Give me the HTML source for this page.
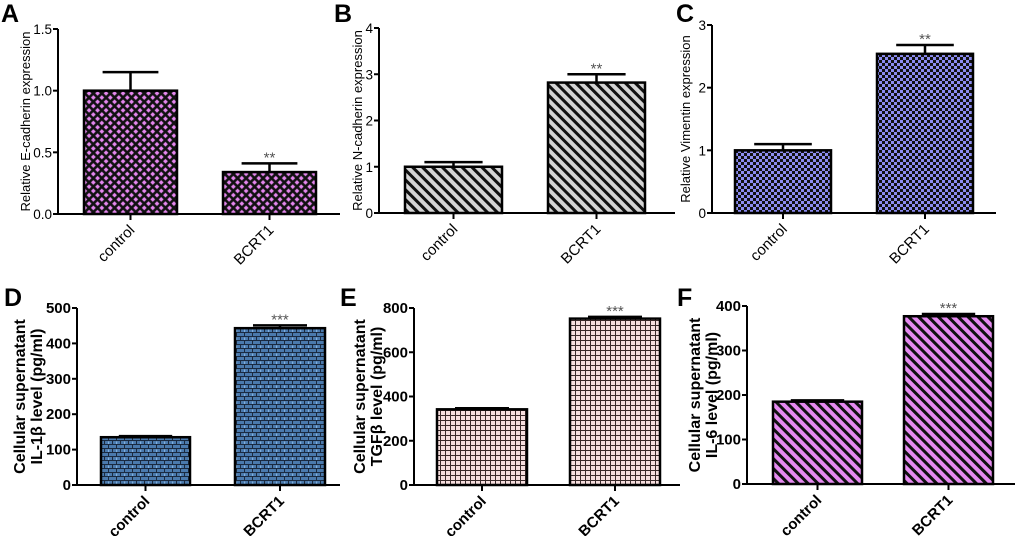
<!DOCTYPE html>
<html><head><meta charset="utf-8"><style>
body{margin:0;background:#fff;}
svg{display:block;font-family:"Liberation Sans",Arial,sans-serif;}
</style></head><body>
<svg id="fig" width="1020" height="536" viewBox="0 0 1020 536">
<defs>
<pattern id="pA" width="6" height="6" patternUnits="userSpaceOnUse" patternTransform="rotate(45)">
<rect width="6" height="6" fill="#111"/><rect x="1.3" y="1.3" width="3.4" height="3.4" fill="#e486ee"/></pattern>
<pattern id="pB" width="7" height="7" patternUnits="userSpaceOnUse" patternTransform="rotate(45)">
<rect width="7" height="7" fill="#d4d4d4"/><rect width="7" height="3" fill="#111"/></pattern>
<pattern id="pC" width="6" height="6" patternUnits="userSpaceOnUse">
<rect width="6" height="6" fill="#111"/><rect width="3" height="3" fill="#8c8cf0"/><rect x="3" y="3" width="3" height="3" fill="#8c8cf0"/></pattern>
<pattern id="pD" width="8" height="8" patternUnits="userSpaceOnUse">
<rect width="8" height="8" fill="#7fb0e0"/><rect x="0" y="0" width="8" height="1.2" fill="#1a2a40"/><rect x="0" y="4" width="8" height="1.2" fill="#1a2a40"/><rect x="0" y="0" width="1.2" height="4" fill="#1a2a40"/><rect x="4" y="4" width="1.2" height="4" fill="#1a2a40"/><rect x="1.2" y="1.2" width="2.8" height="2.8" fill="#4a7aae"/><rect x="5.2" y="1.2" width="2.8" height="2.8" fill="#4a7aae"/><rect x="0" y="5.2" width="4" height="2.8" fill="#4a7aae"/><rect x="5.2" y="5.2" width="2.8" height="2.8" fill="#4a7aae"/></pattern>
<pattern id="pE" width="5" height="5" patternUnits="userSpaceOnUse">
<rect width="5" height="5" fill="#3a2a2a"/><rect x="1" y="1" width="4" height="4" fill="#f6dede"/></pattern>
<pattern id="pF" width="7" height="7" patternUnits="userSpaceOnUse" patternTransform="rotate(45)">
<rect width="7" height="7" fill="#e58af0"/><rect width="7" height="3" fill="#111"/></pattern>
</defs>
</svg>
<script>
const categories=["control","BCRT1"];
const valsA=[1.0,0.34], errA=[0.15,0.07];
const valsB=[1.0,2.82], errB=[0.1,0.18];
const valsC=[1.0,2.54], errC=[0.1,0.14];
const valsD=[135,443], errD=[3,8];
const valsE=[342,752], errE=[5,8];
const valsF=[185,377], errF=[3,5];
const ticksA=["0.0","0.5","1.0","1.5"];
const ticksB=["0","1","2","3","4"];
const ticksC=["0","1","2","3"];
const ticksD=["0","100","200","300","400","500"];
const ticksE=["0","200","400","600","800"];
const ticksF=["0","100","200","300","400"];
const starsTop=["","**"], starsBot=["","***"];

const NS="http://www.w3.org/2000/svg";
const svg=document.getElementById('fig');
function mk(t,a,p){const e=document.createElementNS(NS,t);for(const k in a)e.setAttribute(k,a[k]);(p||svg).appendChild(e);return e;}

const panels=[
 {id:'a',letter:'A',lx:1,ly:22,ax:58,top:29,zero:214,xend:340,bars:[[84,177],[223,316]],vals:valsA,err:errA,ticks:ticksA,max:1.5,pat:'pA',lab:['Relative E-cadherin expression'],bold:false,stars:starsTop,lab1x:30},
 {id:'b',letter:'B',lx:334,ly:22,ax:379,top:28,zero:213,xend:675,bars:[[405,502],[548,645]],vals:valsB,err:errB,ticks:ticksB,max:4,pat:'pB',lab:['Relative N-cadherin expression'],bold:false,stars:starsTop,lab1x:362},
 {id:'c',letter:'C',lx:676,ly:22,ax:712,top:25,zero:213,xend:996,bars:[[735,831],[877,973]],vals:valsC,err:errC,ticks:ticksC,max:3,pat:'pC',lab:['Relative Vimentin expression'],bold:false,stars:starsTop,lab1x:690},
 {id:'d',letter:'D',lx:4,ly:306,ax:77,top:308,zero:485,xend:340,bars:[[101,190],[235,325]],vals:valsD,err:errD,ticks:ticksD,max:500,pat:'pD',lab:['Cellular supernatant','IL-1β level (pg/ml)'],bold:true,stars:starsBot,lab1x:25},
 {id:'e',letter:'E',lx:340,ly:306,ax:414,top:308,zero:485,xend:680,bars:[[437,527],[570,660]],vals:valsE,err:errE,ticks:ticksE,max:800,pat:'pE',lab:['Cellular supernatant','TGFβ level (pg/ml)'],bold:true,stars:starsBot,lab1x:365},
 {id:'f',letter:'F',lx:677,ly:306,ax:747,top:306,zero:484,xend:1015,bars:[[773,862],[904,993]],vals:valsF,err:errF,ticks:ticksF,max:400,pat:'pF',lab:['Cellular supernatant','IL-6 level (pg/ml)'],bold:true,stars:starsBot,lab1x:700}
];

panels.forEach(p=>{
 const g=mk('g',{});
 
 
 const y=v=>p.zero-(v/p.max)*(p.zero-p.top);
 const L=mk('text',{x:p.lx,y:p.ly,'font-size':25,'font-weight':'bold',fill:'#000'},g);L.textContent=p.letter;
 
 
 const ya=mk('line',{x1:p.ax,y1:p.top,x2:p.ax,y2:p.zero+1,stroke:'#000','stroke-width':2},g);
 
 
 const cy=(p.top+p.zero)/2;
 const yl=mk('text',{transform:`translate(${p.lab1x},${cy}) rotate(-90)`,'font-size':p.bold?16:13,'text-anchor':'middle','font-weight':p.bold?'bold':'normal'},g);
 p.lab.forEach((s,i)=>{const ts=mk('tspan',{x:0,dy:i?17:0},yl);ts.textContent=s;});
 
 
 const n=p.ticks.length;
 p.ticks.forEach((t,i)=>{
  const v=p.max*i/(n-1), yy=y(v);
  mk('line',{x1:p.ax-5,y1:yy,x2:p.ax,y2:yy,stroke:'#000','stroke-width':2},g);
  const tx=mk('text',{x:p.ax-6,y:yy+5,'font-size':p.bold?15:13.5,'text-anchor':'end','font-weight':p.bold?'bold':'normal'},g);
  tx.textContent=t;
  
  
 });
 const xa=mk('line',{x1:p.ax-1,y1:p.zero,x2:p.xend,y2:p.zero,stroke:'#000','stroke-width':2},g);
 
 
 categories.forEach((c,i)=>{
  const [x0,x1]=p.bars[i], cx=(x0+x1)/2, v=p.vals[i], e=p.err[i];
  const r=mk('rect',{x:x0,y:y(v),width:x1-x0,height:p.zero-y(v),fill:`url(#${p.pat})`,stroke:'#000','stroke-width':2.5},g);
  
  
  const hw=(x1-x0)*0.3;
  const eb=mk('path',{d:`M${cx},${y(v)}V${y(v+e)}M${cx-hw},${y(v+e)}H${cx+hw}`,stroke:'#000','stroke-width':2.5,fill:'none'},g);
  
  
  if(p.stars[i]){const s=mk('text',{x:cx,y:y(v+e)-1,'font-size':15,'text-anchor':'middle',fill:'#555'},g);s.textContent=p.stars[i];
   
   }
  mk('line',{x1:cx,y1:p.zero,x2:cx,y2:p.zero+6,stroke:'#000','stroke-width':2},g);
  const xl=mk('text',{transform:`translate(${cx+5},${p.zero+17}) rotate(-45)`,'font-size':15,'text-anchor':'end','font-weight':p.bold?'bold':'normal'},g);
  xl.textContent=c;
  
  
 });
});
</script>
</body></html>
